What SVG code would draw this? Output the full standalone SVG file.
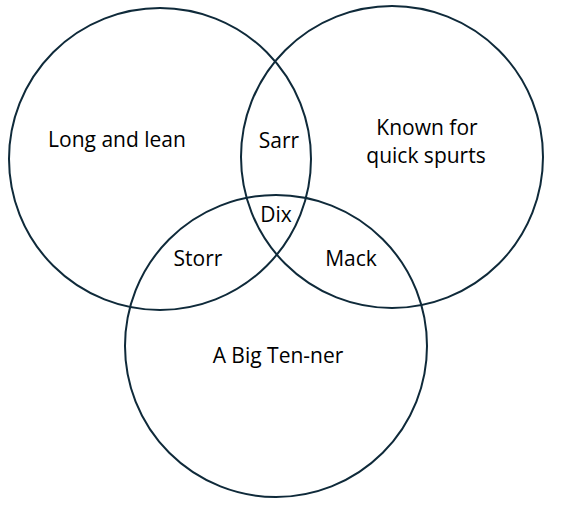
<svg xmlns="http://www.w3.org/2000/svg" width="565" height="511" viewBox="0 0 565 511">
<style>
.c{fill:none;stroke:#0f2a3a;stroke-width:2}
.t{font-family:"Open Sans","Liberation Sans",sans-serif;font-size:21px;fill:#000;text-anchor:middle}
</style>
<rect width="565" height="511" fill="#fff"/>
<g id="left"><circle class="c" cx="160" cy="159" r="151"/><text class="t" x="117" y="147">Long and lean</text></g>
<g id="right"><circle class="c" cx="392" cy="157" r="151"/><text class="t" x="427" y="135">Known for</text><text class="t" x="426" y="163">quick spurts</text></g>
<g id="bottom"><circle class="c" cx="276" cy="346" r="151"/><text class="t" x="278" y="363">A Big Ten-ner</text></g>
<g id="sarr"><text class="t" x="279" y="148">Sarr</text></g>
<g id="dix"><text class="t" x="276" y="222">Dix</text></g>
<g id="storr"><text class="t" x="198" y="266">Storr</text></g>
<g id="mack"><text class="t" x="351" y="266">Mack</text></g>
</svg>
